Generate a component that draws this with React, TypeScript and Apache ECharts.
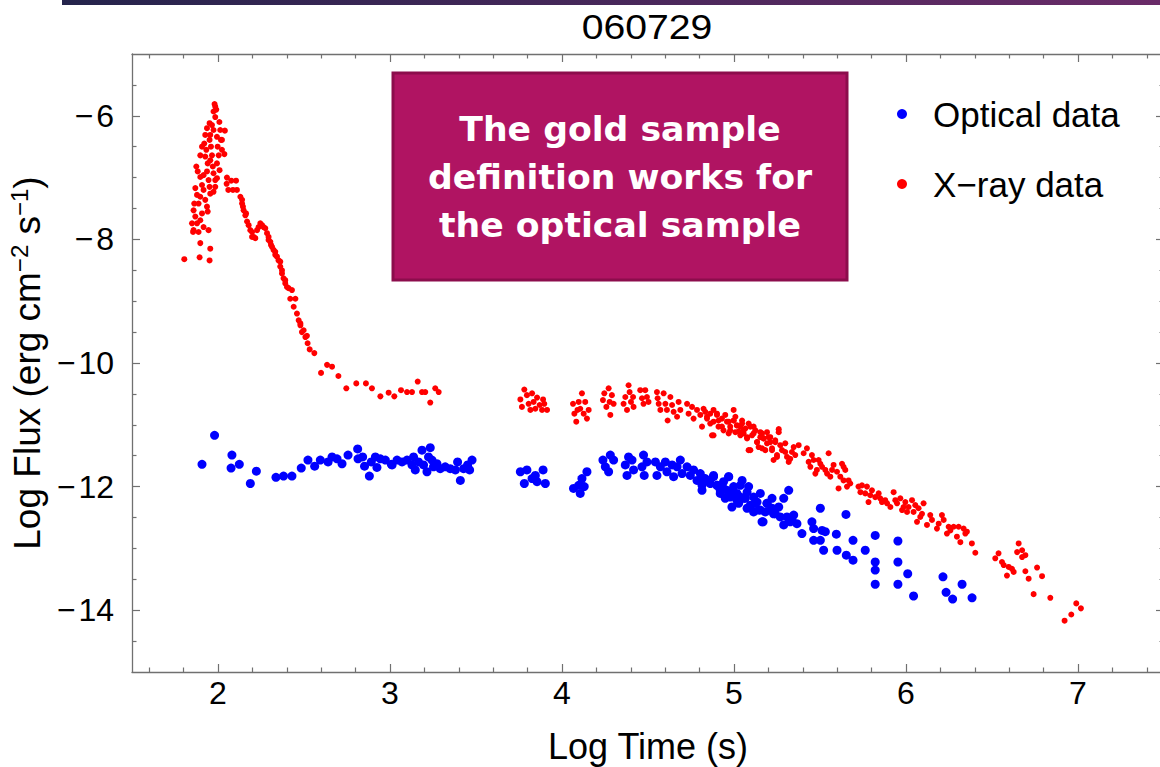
import React, { useEffect, useRef } from "react";
import * as echarts from "echarts";

// Axis ticks (log time on x, log flux on y)
const xMajorTicks = [2, 3, 4, 5, 6, 7];
const xMinorTicks = [1.6, 1.8, 2.2, 2.4, 2.6, 2.8, 3.2, 3.4, 3.6, 3.8, 4.2, 4.4, 4.6, 4.8, 5.2, 5.4, 5.6, 5.8, 6.2, 6.4, 6.6, 6.8, 7.2, 7.4];
const yMajorTicks = [-14, -12, -10, -8, -6];
const yMinorTicks = [-14.5, -13.5, -13, -12.5, -11.5, -11, -10.5, -9.5, -9, -8.5, -7.5, -7, -6.5, -5.5];

const seriesNames = ["Optical data", "X\u2212ray data"];

// Optical afterglow: [log t (s), log flux]
const opticalData: [number, number][] = [
  [1.907, -11.64], [1.98, -11.17], [2.081, -11.49], [2.076, -11.7], [2.124, -11.64], [2.188, -11.95], [2.223, -11.75],
  [2.337, -11.85], [2.381, -11.83], [2.43, -11.83], [2.484, -11.7], [2.523, -11.57], [2.562, -11.67], [2.595, -11.57],
  [2.64, -11.6], [2.663, -11.52], [2.692, -11.55], [2.721, -11.63], [2.756, -11.49], [2.812, -11.39], [2.814, -11.55],
  [2.841, -11.52], [2.852, -11.67], [2.88, -11.83], [2.891, -11.6], [2.915, -11.52], [2.924, -11.69], [2.944, -11.55],
  [2.973, -11.57], [3.008, -11.64], [3.041, -11.57], [3.012, -11.65], [3.07, -11.6], [3.099, -11.57], [3.128, -11.65],
  [3.137, -11.52], [3.147, -11.73], [3.166, -11.6], [3.186, -11.41], [3.195, -11.65], [3.215, -11.76], [3.224, -11.52],
  [3.234, -11.37], [3.244, -11.57], [3.253, -11.68], [3.273, -11.63], [3.292, -11.71], [3.321, -11.68], [3.35, -11.71],
  [3.38, -11.73], [3.393, -11.6], [3.409, -11.9], [3.428, -11.71], [3.451, -11.65], [3.463, -11.73], [3.477, -11.57],
  [3.758, -11.76], [3.781, -11.95], [3.796, -11.73], [3.826, -11.87], [3.845, -11.82], [3.855, -11.92], [3.89, -11.73],
  [3.903, -11.95], [4.067, -12.03], [4.097, -11.98], [4.106, -12.11], [4.116, -11.87], [4.129, -12.0], [4.145, -11.76],
  [4.238, -11.57], [4.252, -11.68], [4.271, -11.76], [4.281, -11.49], [4.3, -11.57], [4.368, -11.65], [4.378, -11.82],
  [4.387, -11.52], [4.407, -11.57], [4.416, -11.73], [4.465, -11.68], [4.474, -11.49], [4.478, -11.82], [4.494, -11.6],
  [4.543, -11.6], [4.552, -11.82], [4.572, -11.68], [4.601, -11.6], [4.61, -11.76], [4.64, -11.65], [4.649, -11.84],
  [4.669, -11.68], [4.688, -11.57], [4.698, -11.79], [4.727, -11.68], [4.746, -11.82], [4.765, -11.73], [4.785, -11.9],
  [4.804, -11.79], [4.814, -11.98], [4.833, -11.87], [4.862, -11.95], [4.881, -11.82], [4.901, -11.98], [4.92, -12.11],
  [4.939, -11.92], [4.959, -12.06], [4.969, -11.84], [4.978, -12.17], [4.998, -12.0], [5.017, -12.11], [5.027, -12.27],
  [5.037, -11.98], [5.056, -12.19], [5.076, -12.09], [5.095, -12.33], [5.114, -12.17], [5.134, -12.25], [5.153, -12.38],
  [5.169, -12.57], [5.192, -12.27], [5.221, -12.35], [5.24, -12.44], [4.823, -11.87], [4.881, -11.84], [4.814, -12.06],
  [4.92, -12.06], [4.969, -11.84], [4.949, -12.19], [4.988, -12.33], [5.047, -11.9], [5.037, -12.17], [5.085, -12.0],
  [5.095, -12.3], [5.114, -12.41], [5.153, -12.11], [5.163, -12.57], [5.192, -12.27], [5.221, -12.19], [5.23, -12.44],
  [5.26, -12.33], [5.289, -12.19], [5.289, -12.62], [5.318, -12.06], [5.308, -12.49], [5.337, -12.54], [5.366, -12.6],
  [5.395, -12.76], [5.453, -12.57], [5.463, -12.68], [5.463, -12.87], [5.502, -12.35], [5.512, -12.71], [5.521, -13.03],
  [5.531, -12.73], [5.502, -12.87], [5.595, -12.77], [5.599, -13.03], [5.651, -12.45], [5.653, -13.11], [5.692, -12.87],
  [5.692, -13.19], [5.763, -13.03], [5.821, -12.79], [5.821, -13.22], [5.821, -13.35], [5.821, -13.58], [5.953, -12.88],
  [5.953, -13.22], [5.953, -13.58], [6.01, -13.41], [6.044, -13.77], [6.215, -13.46], [6.233, -13.71], [6.271, -13.82],
  [6.326, -13.58], [6.384, -13.8],
  [4.852, -11.92], [4.901, -11.98], [4.939, -12.03], [4.978, -12.11], [5.008, -12.14], [5.017, -12.22], [5.066, -12.19],
  [5.076, -12.35], [5.124, -12.27], [5.143, -12.38], [5.182, -12.41], [5.211, -12.38], [5.269, -12.49], [5.327, -12.57],
  [5.347, -12.46],
];

// X-ray afterglow: [log t (s), log flux]
const xrayData: [number, number][] = [
  [1.804, -8.32], [1.893, -8.29], [1.951, -8.34], [1.955, -8.15], [1.897, -8.06],
  [1.874, -6.82], [1.882, -6.9], [1.868, -7.17], [1.878, -7.28], [1.887, -7.42], [1.858, -7.53], [1.868, -7.63],
  [1.878, -7.74], [1.858, -7.85], [1.887, -7.88], [1.897, -7.69], [1.907, -7.58], [1.897, -7.31], [1.907, -7.12],
  [1.897, -6.99], [1.916, -6.96], [1.916, -7.2], [1.926, -7.36], [1.936, -7.47], [1.94, -7.55], [1.945, -7.85],
  [1.916, -7.8], [1.926, -6.31], [1.92, -6.45], [1.932, -6.55], [1.926, -6.66], [1.94, -6.77], [1.945, -7.04],
  [1.951, -7.15], [1.955, -7.26], [1.951, -6.39], [1.959, -6.5], [1.965, -6.64], [1.955, -6.72], [1.97, -6.82],
  [1.974, -6.93], [1.984, -7.04], [1.965, -6.15], [1.974, -6.23], [1.984, -6.02], [1.994, -6.34], [1.998, -6.5],
  [2.004, -6.64], [1.994, -6.77], [2.009, -6.88], [2.017, -6.39], [2.023, -6.55], [2.013, -6.23], [1.984, -5.85],
  [1.974, -5.93], [1.951, -6.12], [1.936, -6.2], [1.955, -6.31], [1.907, -6.5], [1.897, -6.64], [1.936, -6.9],
  [1.984, -7.15], [1.994, -7.01], [1.974, -7.23], [1.862, -7.42], [1.849, -7.74], [1.855, -7.88],
  [1.98, -5.81], [1.99, -5.9], [2.008, -6.1], [2.04, -6.24], [2.023, -6.39], [2.037, -6.62],
  [2.052, -7.0], [2.05, -7.1], [2.06, -7.2], [2.087, -7.2], [2.077, -7.05], [2.105, -7.05], [2.11, -7.2],
  [2.13, -7.31], [2.14, -7.42], [2.149, -7.53], [2.159, -7.61], [2.169, -7.71], [2.188, -7.85], [2.198, -7.96],
  [2.217, -7.98], [2.227, -7.85], [2.246, -7.74], [2.256, -7.77], [2.275, -7.82], [2.285, -7.9], [2.294, -8.01],
  [2.308, -8.09], [2.323, -8.17], [2.333, -8.25], [2.352, -8.34], [2.362, -8.44], [2.372, -8.55], [2.381, -8.63],
  [2.391, -8.71], [2.41, -8.79], [2.42, -8.96], [2.45, -8.96], [2.44, -9.09], [2.459, -9.2], [2.469, -9.31],
  [2.479, -9.39], [2.488, -9.5], [2.508, -9.58],
  [2.14, -7.36], [2.145, -7.47], [2.163, -7.58], [2.178, -7.77], [2.198, -7.88], [2.207, -7.96], [2.236, -7.8],
  [2.265, -7.8], [2.294, -7.96], [2.304, -8.04], [2.314, -8.12], [2.333, -8.2], [2.343, -8.28], [2.362, -8.36],
  [2.372, -8.5], [2.391, -8.66], [2.401, -8.77], [2.43, -8.82], [2.479, -9.36], [2.498, -9.47], [2.517, -9.56],
  [2.521, -9.68], [2.533, -9.78], [2.56, -9.84], [2.599, -10.16], [2.634, -10.03], [2.663, -10.06], [2.7, -10.21],
  [2.746, -10.41], [2.804, -10.33], [2.86, -10.33], [2.895, -10.41], [2.944, -10.54], [2.992, -10.48], [3.025, -10.54],
  [3.064, -10.44], [3.099, -10.47], [3.128, -10.47], [3.161, -10.3], [3.186, -10.47], [3.205, -10.47], [3.234, -10.64],
  [3.263, -10.41], [3.283, -10.47],
  [3.758, -10.59], [3.781, -10.43], [3.796, -10.52], [3.806, -10.66], [3.826, -10.49], [3.835, -10.63], [3.845, -10.74],
  [3.855, -10.56], [3.87, -10.68], [3.884, -10.76], [3.897, -10.66], [3.913, -10.76], [3.767, -10.71], [3.816, -10.76],
  [3.89, -10.59],
  [4.064, -10.66], [4.072, -10.82], [4.083, -10.95], [4.097, -10.63], [4.106, -10.74], [4.116, -10.49], [4.126, -10.82],
  [4.135, -10.63], [4.145, -10.9], [4.155, -10.76], [4.09, -10.76],
  [4.238, -10.6], [4.246, -10.49], [4.258, -10.71], [4.271, -10.41], [4.277, -10.63], [4.281, -10.84], [4.29, -10.52],
  [4.3, -10.66],
  [4.358, -10.66], [4.368, -10.55], [4.378, -10.76], [4.387, -10.36], [4.393, -10.47], [4.401, -10.63], [4.413, -10.55],
  [4.416, -10.71], [4.455, -10.44], [4.465, -10.57], [4.474, -10.66], [4.484, -10.44], [4.494, -10.55], [4.503, -10.63],
  [4.552, -10.47], [4.556, -10.57], [4.562, -10.66], [4.572, -10.76], [4.591, -10.49], [4.601, -10.66], [4.61, -10.76],
  [4.614, -10.93], [4.63, -10.55], [4.64, -10.68], [4.649, -10.79], [4.669, -10.87], [4.678, -10.63], [4.688, -10.76],
  [4.727, -10.66], [4.736, -10.82], [4.756, -10.71], [4.765, -10.9], [4.785, -10.76], [4.804, -10.84], [4.814, -11.03],
  [4.823, -10.74], [4.843, -10.9], [4.862, -10.82], [4.872, -11.17], [4.881, -10.95], [4.901, -10.84], [4.91, -11.03],
  [4.93, -10.9], [4.939, -11.09], [4.959, -10.95], [4.969, -11.14], [4.978, -11.03], [4.998, -10.93], [5.008, -11.12],
  [5.017, -11.01], [5.037, -11.17], [5.047, -10.98], [5.056, -11.09], [5.076, -11.2], [5.085, -11.41], [5.095, -11.03],
  [5.114, -11.14], [5.134, -11.28], [5.153, -11.12], [5.163, -11.38], [5.172, -11.22], [5.192, -11.3], [5.211, -11.2],
  [5.221, -11.41], [5.24, -11.28], [5.25, -11.52], [5.26, -11.12],
  [4.843, -10.87], [4.862, -10.98], [4.901, -10.82], [4.91, -10.93], [4.93, -11.03], [4.949, -10.84], [4.969, -10.95],
  [4.978, -11.09], [5.008, -10.87], [5.017, -11.01], [5.027, -11.11], [5.047, -10.93], [5.056, -11.14], [5.066, -11.06],
  [5.076, -11.22], [5.085, -10.98], [5.105, -11.17], [5.124, -11.09], [5.134, -11.28], [5.143, -11.36], [5.163, -11.14],
  [5.172, -11.22], [5.182, -11.41], [5.201, -11.2], [5.221, -11.38], [5.24, -11.25], [5.25, -11.49], [5.279, -11.41],
  [5.298, -11.3], [5.308, -11.52], [5.318, -11.6], [5.337, -11.44], [5.356, -11.49],
  [4.833, -10.79], [4.881, -10.76], [4.998, -10.76], [4.881, -11.17], [4.998, -10.93], [5.037, -11.03], [5.095, -11.41],
  [5.114, -11.03], [5.153, -11.2], [5.192, -11.12], [5.211, -11.28], [5.23, -11.57], [5.26, -11.07], [5.269, -11.33],
  [5.298, -11.44], [5.327, -11.55], [5.347, -11.36], [5.376, -11.33], [5.424, -11.38], [5.434, -11.6], [5.453, -11.49],
  [5.473, -11.79], [5.492, -11.57], [5.512, -11.68], [5.531, -11.73], [5.55, -11.46], [5.56, -11.84], [5.579, -11.65],
  [5.599, -11.76], [5.608, -12.03], [5.628, -11.63], [5.637, -11.9], [5.647, -11.73], [5.657, -12.0], [5.676, -11.95],
  [5.724, -12.0], [5.735, -12.09], [5.773, -12.0], [5.782, -12.25], [5.802, -12.06], [5.821, -12.17], [5.85, -12.19],
  [5.879, -12.22], [5.909, -12.33], [5.928, -12.09], [5.948, -12.27], [5.967, -12.19], [5.977, -12.38], [5.996, -12.25],
  [6.015, -12.33], [6.035, -12.22], [6.044, -12.41], [6.064, -12.57], [6.073, -12.35], [6.093, -12.44], [6.102, -12.27],
  [6.122, -12.62], [6.151, -12.54], [6.18, -12.68], [6.209, -12.46], [6.219, -12.54], [6.238, -12.76], [6.248, -12.65],
  [6.277, -12.65], [6.296, -12.81], [6.306, -12.65], [6.316, -12.9], [6.335, -12.68], [6.354, -12.73], [6.383, -12.92],
  [5.405, -11.46], [5.444, -11.68], [5.463, -11.57], [5.482, -11.73], [5.502, -11.63], [5.541, -11.79], [5.57, -11.73],
  [5.618, -11.84], [5.637, -11.68], [5.666, -11.9], [5.744, -11.98], [5.763, -12.11], [5.792, -12.14], [5.841, -12.11],
  [5.86, -12.25], [5.89, -12.27], [5.938, -12.22], [5.986, -12.33], [6.006, -12.41], [6.054, -12.3], [6.083, -12.49],
  [6.141, -12.46], [6.19, -12.6], [6.258, -12.71], [6.345, -12.76],
  [6.403, -13.07], [6.519, -13.16], [6.538, -13.08], [6.558, -13.22], [6.568, -13.27], [6.587, -13.44], [6.597, -13.3],
  [6.616, -13.33], [6.626, -13.38], [6.646, -13.06], [6.655, -12.92], [6.675, -13.03], [6.675, -13.14], [6.694, -13.11],
  [6.694, -13.37], [6.713, -13.49], [6.742, -13.74], [6.762, -13.31], [6.791, -13.45], [6.839, -13.8], [6.922, -14.17],
  [6.961, -14.07], [6.99, -13.89], [7.017, -13.97],
];

const FONT = "'Liberation Sans', Arial, sans-serif";
const FRAME = "#707070";
// Mathematica-style minus sign with a hair of space before the digits
const minus = (v: number) => String(v).replace("-", "\u2212\u200a");

function frameAxis(kind: "x" | "y", position: string, ticks: number[], len: number, withLine: boolean, labels: boolean) {
  const base: any = {
    type: "value",
    gridIndex: 0,
    position,
    min: kind === "x" ? 1.5 : -15,
    max: kind === "x" ? 7.5 : -5,
    splitLine: { show: false },
    axisLine: { show: withLine, onZero: false, lineStyle: { color: FRAME, width: 1.3 } },
    axisTick: { show: true, inside: true, length: len, customValues: ticks, lineStyle: { color: FRAME, width: 1.2 } },
    axisLabel: { show: false },
  };
  if (labels) {
    base.axisLabel = {
      show: true,
      customValues: ticks,
      formatter: minus,
      fontFamily: FONT,
      fontSize: 32,
      color: "#000",
      margin: kind === "x" ? 5 : 18,
    };
  }
  return base;
}

export default function App() {
  const ref = useRef<HTMLDivElement>(null);
  useEffect(() => {
    if (!ref.current) return;
    const chart = echarts.init(ref.current, undefined, { renderer: "svg" });
    const xBottom = frameAxis("x", "bottom", xMajorTicks, 8, true, true);
    xBottom.name = "Log Time (s)";
    xBottom.nameLocation = "middle";
    xBottom.nameGap = 56;
    xBottom.nameTextStyle = { fontFamily: FONT, fontSize: 36, color: "#000" };
    const yLeft = frameAxis("y", "left", yMajorTicks, 8, true, true);
    yLeft.name = "Log Flux (erg cm{sup|\u22122} s{sup|\u22121})";
    yLeft.nameLocation = "middle";
    yLeft.nameGap = 80;
    yLeft.nameTextStyle = {
      fontFamily: FONT,
      fontSize: 37,
      color: "#000",
      rich: { sup: { fontFamily: FONT, fontSize: 24, color: "#000", padding: [0, 0, 17, 0] } },
    };
    chart.setOption({
      animation: false,
      backgroundColor: "#ffffff",
      legend: {
        orient: "vertical",
        left: 892,
        top: 89,
        itemWidth: 52,
        itemHeight: 10,
        itemGap: 30,
        icon: "circle",
        data: seriesNames,
        textStyle: { fontFamily: FONT, fontSize: 35, color: "#000", lineHeight: 40 },
      },
      grid: { left: 132, top: 54, width: 1032, height: 618, outerBoundsMode: "none", containLabel: false },
      xAxis: [
        xBottom,
        frameAxis("x", "bottom", xMinorTicks, 4.5, false, false),
        frameAxis("x", "top", xMajorTicks, 8, true, false),
        frameAxis("x", "top", xMinorTicks, 4.5, false, false),
      ],
      yAxis: [
        yLeft,
        frameAxis("y", "left", yMinorTicks, 4.5, false, false),
        frameAxis("y", "right", yMajorTicks, 8, true, false),
        frameAxis("y", "right", yMinorTicks, 4.5, false, false),
      ],
      series: [
        {
          name: seriesNames[0],
          type: "scatter",
          xAxisIndex: 0,
          yAxisIndex: 0,
          data: opticalData,
          symbolSize: 9,
          itemStyle: { color: "#0000ff", opacity: 1 },
        },
        {
          name: seriesNames[1],
          type: "scatter",
          xAxisIndex: 0,
          yAxisIndex: 0,
          data: xrayData,
          symbolSize: 6,
          itemStyle: { color: "#ff0000", opacity: 1 },
        },
      ],
      graphic: [
        {
          type: "rect",
          shape: { x: 62, y: 0, width: 1098, height: 5 },
          style: {
            fill: new echarts.graphic.LinearGradient(0, 0, 1, 0, [
              { offset: 0, color: "#25244c" },
              { offset: 1, color: "#6a2b68" },
            ]),
          },
          z: 100,
        },
        {
          // burst id above the plot frame
          type: "text",
          x: 647,
          y: 27,
          scaleX: 1.12,
          style: {
            text: "060729",
            fill: "#000",
            font: "35px 'Liberation Sans'",
            align: "center",
            verticalAlign: "middle",
          },
          z: 100,
        },
        {
          type: "rect",
          shape: { x: 393, y: 73, width: 454, height: 207 },
          style: { fill: "#b01462", stroke: "#8c0d4c", lineWidth: 3 },
          z: 100,
        },
        {
          type: "text",
          x: 620,
          y: 178,
          scaleX: 1.05,
          style: {
            text: "The gold sample\ndefinition works for\nthe optical sample",
            fill: "#ffffff",
            font: "bold 33px 'DejaVu Sans'",
            align: "center",
            verticalAlign: "middle",
            lineHeight: 48,
          },
          z: 101,
        },
      ],
    });
    return () => chart.dispose();
  }, []);
  return <div ref={ref} style={{ position: "absolute", left: 0, top: 0, width: 1160, height: 767 }} />;
}
